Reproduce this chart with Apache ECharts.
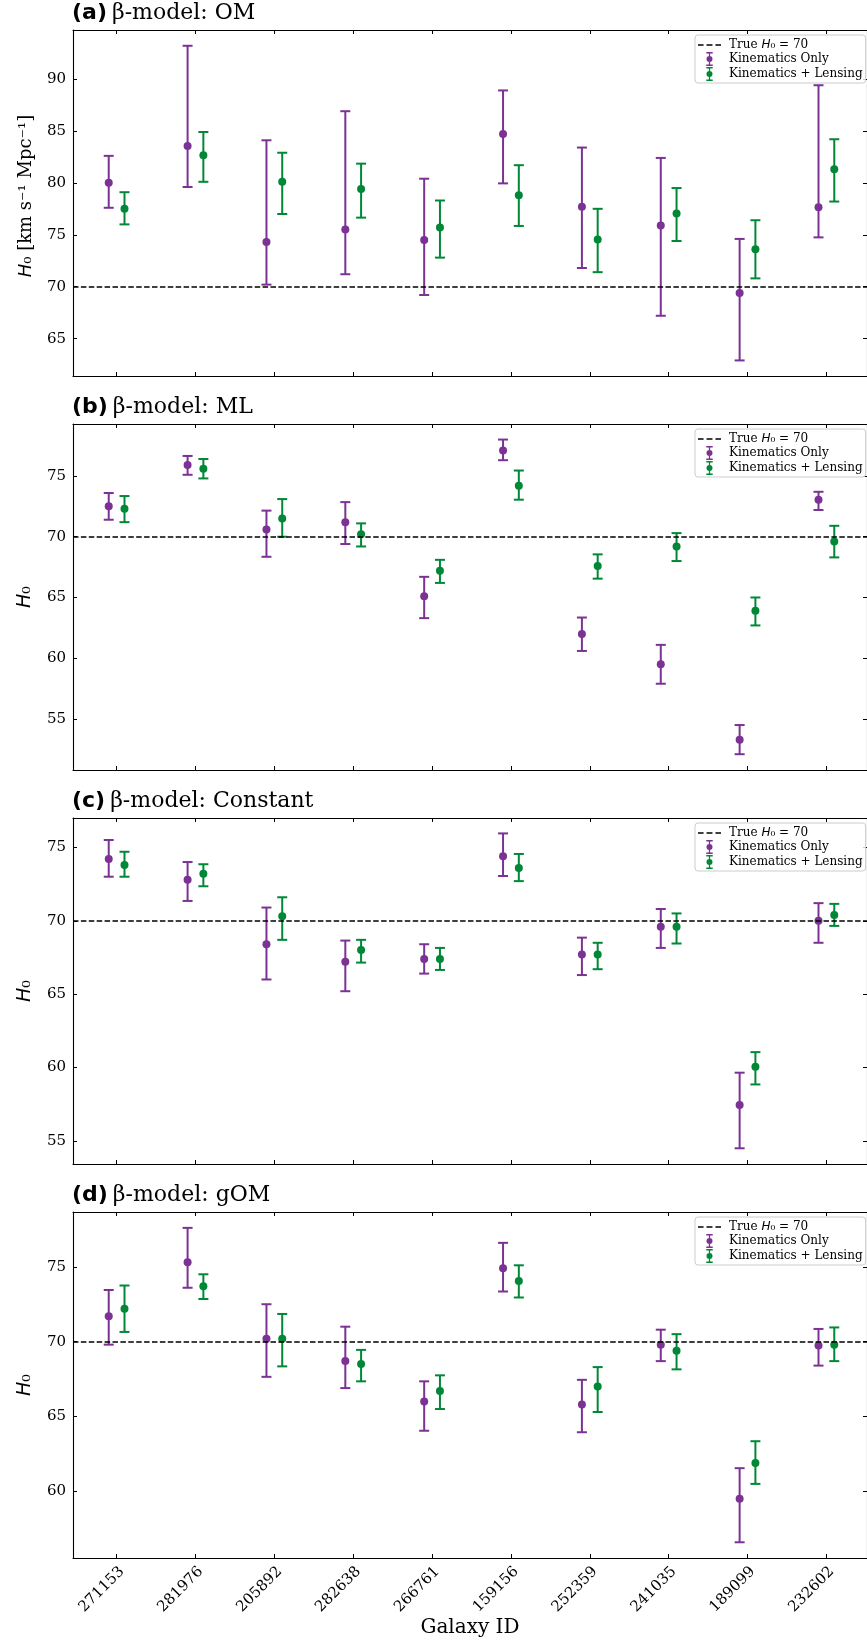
<!DOCTYPE html>
<html>
<head>
<meta charset="utf-8">
<title>H0 by galaxy</title>
<script src="https://cdn.jsdelivr.net/npm/echarts@6/dist/echarts.min.js"></script>
<style>
  html, body { margin: 0; padding: 0; background: #fff; }
  #main { width: 867px; height: 1643px; }
</style>
</head>
<body>
<div id="main"></div>
<script>
// x axis categories
const galaxyIds = ['271153', '281976', '205892', '282638', '266761', '159156', '252359', '241035', '189099', '232602'];
const TRUE_H0 = 70;

// (a) OM
const omKinVal  = [80.0, 83.55, 74.3, 75.5, 74.5, 84.7, 77.7, 75.9, 69.4, 77.65];
const omKinLo   = [77.6, 79.6, 70.2, 71.2, 69.2, 79.95, 71.8, 67.2, 62.9, 74.75];
const omKinHi   = [82.6, 93.2, 84.1, 86.9, 80.4, 88.9, 83.4, 82.4, 74.6, 89.4];
const omLensVal = [77.5, 82.65, 80.1, 79.4, 75.7, 78.8, 74.55, 77.05, 73.6, 81.3];
const omLensLo  = [76.0, 80.1, 77.0, 76.65, 72.8, 75.85, 71.4, 74.4, 70.8, 78.2];
const omLensHi  = [79.1, 84.9, 82.9, 81.85, 78.3, 81.7, 77.5, 79.5, 76.4, 84.2];

// (b) ML
const mlKinVal  = [72.5, 75.9, 70.6, 71.2, 65.1, 77.1, 62.0, 59.5, 53.3, 73.05];
const mlKinLo   = [71.4, 75.1, 68.35, 69.4, 63.3, 76.3, 60.6, 57.9, 52.1, 72.2];
const mlKinHi   = [73.6, 76.65, 72.15, 72.85, 66.7, 78.0, 63.35, 61.1, 54.5, 73.7];
const mlLensVal = [72.3, 75.6, 71.5, 70.2, 67.2, 74.2, 67.6, 69.2, 63.9, 69.6];
const mlLensLo  = [71.2, 74.8, 70.0, 69.2, 66.2, 73.05, 66.55, 68.0, 62.7, 68.3];
const mlLensHi  = [73.35, 76.4, 73.1, 71.1, 68.1, 75.45, 68.55, 70.3, 65.0, 70.9];

// (c) Constant
const cKinVal  = [74.2, 72.8, 68.4, 67.2, 67.4, 74.4, 67.7, 69.6, 57.45, 70.0];
const cKinLo   = [73.0, 71.35, 66.0, 65.2, 66.4, 73.05, 66.3, 68.15, 54.5, 68.5];
const cKinHi   = [75.5, 74.0, 70.9, 68.65, 68.4, 75.95, 68.85, 70.8, 59.65, 71.2];
const cLensVal = [73.8, 73.2, 70.3, 68.0, 67.4, 73.6, 67.7, 69.6, 60.05, 70.4];
const cLensLo  = [73.0, 72.35, 68.7, 67.15, 66.65, 72.7, 66.7, 68.45, 58.85, 69.65];
const cLensHi  = [74.7, 73.85, 71.6, 68.7, 68.15, 74.55, 68.5, 70.5, 61.05, 71.15];

// (d) gOM
const gKinVal  = [71.7, 75.3, 70.2, 68.7, 66.0, 74.9, 65.8, 69.8, 59.5, 69.75];
const gKinLo   = [69.8, 73.6, 67.65, 66.9, 64.05, 73.35, 63.95, 68.7, 56.6, 68.4];
const gKinHi   = [73.45, 77.6, 72.5, 71.0, 67.35, 76.6, 67.45, 70.8, 61.55, 70.85];
const gLensVal = [72.2, 73.7, 70.2, 68.5, 66.7, 74.05, 67.0, 69.4, 61.9, 69.8];
const gLensLo  = [70.65, 72.85, 68.35, 67.35, 65.5, 72.95, 65.3, 68.15, 60.5, 68.7];
const gLensHi  = [73.75, 74.5, 71.85, 69.45, 67.75, 75.1, 68.3, 70.5, 63.35, 70.95];

// y tick labels
const yTicksA = [65, 70, 75, 80, 85, 90];
const yTicksB = [55, 60, 65, 70, 75];
const yTicksC = [55, 60, 65, 70, 75];
const yTicksD = [60, 65, 70, 75];

const PURPLE = '#7b3294';
const GREEN = '#008837';
const SERIF = 'DejaVu Serif';
const TRUE_NAME = 'True H0 = 70';
const KIN_NAME = 'Kinematics Only';
const LENS_NAME = 'Kinematics + Lensing';

// legend glyphs: errorbar (caps, stem, dot) and dashed line
const ERR_ICON = 'path://M0,0H6V1.3H0Z M2.4,0H3.6V13H2.4Z M0,11.7H6V13H0Z M0.2,6.5A2.8,2.8 0 1,1 5.8,6.5A2.8,2.8 0 1,1 0.2,6.5Z';
const DASH_ICON = 'path://M0,0H5.6V1.5H0Z M8.6,0H14.6V1.5H8.6Z M17.6,0H23.2V1.5H17.6Z';

const panels = [
  { tag: '(a)', model: 'OM', top: 30, min: 61.4, max: 94.72, ticks: yTicksA,
    yName: '{it|H}₀ [km s⁻¹ Mpc⁻¹]', ySize: 18, yPad: [0, 0, 0, 14],
    kin: [omKinVal, omKinLo, omKinHi], lens: [omLensVal, omLensLo, omLensHi] },
  { tag: '(b)', model: 'ML', top: 424, min: 50.8, max: 79.28, ticks: yTicksB,
    yName: '{it|H}₀', ySize: 19, yPad: 0,
    kin: [mlKinVal, mlKinLo, mlKinHi], lens: [mlLensVal, mlLensLo, mlLensHi] },
  { tag: '(c)', model: 'Constant', top: 818, min: 53.43, max: 77.0, ticks: yTicksC,
    yName: '{it|H}₀', ySize: 19, yPad: 0,
    kin: [cKinVal, cKinLo, cKinHi], lens: [cLensVal, cLensLo, cLensHi] },
  { tag: '(d)', model: 'gOM', top: 1212, min: 55.55, max: 78.66, ticks: yTicksD,
    yName: '{it|H}₀', ySize: 19, yPad: 0,
    kin: [gKinVal, gKinLo, gKinHi], lens: [gLensVal, gLensLo, gLensHi] }
];

const GRID_LEFT = 73, GRID_W = 796, GRID_H = 346;
const X_MIN = -0.553, X_MAX = 9.515;
const xTicks = galaxyIds.map((_, i) => i);

function renderErrorBar(params, api) {
  const p = api.coord([api.value(0), api.value(1)]);
  const lo = api.coord([api.value(0), api.value(2)]);
  const hi = api.coord([api.value(0), api.value(3)]);
  const color = api.visual('color');
  const st = { stroke: color, lineWidth: 2, fill: null };
  return {
    type: 'group',
    children: [
      { type: 'line', shape: { x1: lo[0], y1: lo[1], x2: hi[0], y2: hi[1] }, style: st },
      { type: 'line', shape: { x1: hi[0] - 5, y1: hi[1], x2: hi[0] + 5, y2: hi[1] }, style: st },
      { type: 'line', shape: { x1: lo[0] - 5, y1: lo[1], x2: lo[0] + 5, y2: lo[1] }, style: st },
      { type: 'circle', shape: { cx: p[0], cy: p[1], r: 4 }, style: { fill: color } }
    ]
  };
}

const tickStyle = { show: true, inside: true, length: 4, lineStyle: { color: '#000', width: 1 } };
const spine = { show: true, onZero: false, lineStyle: { color: '#000', width: 1.1 } };

const grids = [], xAxes = [], yAxes = [], series = [], titles = [], legends = [];

panels.forEach((pn, k) => {
  const last = k === panels.length - 1;
  grids.push({ left: GRID_LEFT, top: pn.top, width: GRID_W, height: GRID_H });

  titles.push({
    left: GRID_LEFT - 1, top: pn.top - 28, padding: 0,
    text: '{b|' + pn.tag + '} {n|β-model: ' + pn.model + '}',
    textStyle: {
      fontWeight: 'normal',
      rich: {
        b: { fontFamily: 'DejaVu Sans', fontWeight: 'bold', fontSize: 22, color: '#000' },
        n: { fontFamily: SERIF, fontWeight: 'normal', fontSize: 22, color: '#000' }
      }
    }
  });

  // bottom + top x axes
  xAxes.push({
    type: 'value', gridIndex: k, min: X_MIN, max: X_MAX, position: 'bottom',
    axisLine: spine, axisTick: Object.assign({ customValues: xTicks }, tickStyle), splitLine: { show: false },
    axisLabel: {
      show: last, customValues: xTicks, rotate: 45, margin: 6, verticalAlign: 'top', align: 'right',
      fontFamily: SERIF, fontSize: 15, color: '#000',
      formatter: v => galaxyIds[Math.round(v)] || ''
    },
    name: last ? 'Galaxy ID' : '', nameLocation: 'middle', nameGap: 59,
    nameTextStyle: { fontFamily: SERIF, fontSize: 20, color: '#000' }
  });
  xAxes.push({
    type: 'value', gridIndex: k, min: X_MIN, max: X_MAX, position: 'top',
    axisLine: spine, axisTick: Object.assign({ customValues: xTicks }, tickStyle),
    axisLabel: { show: false }, splitLine: { show: false }
  });

  // left + right y axes
  yAxes.push({
    type: 'value', gridIndex: k, min: pn.min, max: pn.max, position: 'left',
    axisLine: spine, axisTick: Object.assign({ customValues: pn.ticks }, tickStyle), splitLine: { show: false },
    axisLabel: { customValues: pn.ticks, margin: 7, fontFamily: SERIF, fontSize: 15, color: '#000' },
    name: pn.yName, nameLocation: 'middle', nameRotate: 90, nameGap: 38,
    nameTextStyle: {
      fontFamily: SERIF, fontSize: pn.ySize, color: '#000', padding: pn.yPad,
      rich: { it: { fontFamily: 'DejaVu Sans', fontStyle: 'italic', fontSize: pn.ySize, color: '#000' } }
    }
  });
  yAxes.push({
    type: 'value', gridIndex: k, min: pn.min, max: pn.max, position: 'right',
    axisLine: spine, axisTick: Object.assign({ customValues: pn.ticks }, tickStyle),
    axisLabel: { show: false }, splitLine: { show: false }
  });

  const dash = { color: '#000', type: [5.5, 2.4], width: 1.5 };
  series.push({
    name: TRUE_NAME, type: 'line', xAxisIndex: 2 * k, yAxisIndex: 2 * k, data: [],
    symbol: 'none', lineStyle: dash, itemStyle: { color: '#000' },
    markLine: { silent: true, symbol: ['none', 'none'], label: { show: false }, lineStyle: dash,
      data: [{ yAxis: TRUE_H0 }] }
  });
  [[KIN_NAME, pn.kin, -0.1, PURPLE], [LENS_NAME, pn.lens, 0.1, GREEN]].forEach(([name, arr, dx, color]) => {
    series.push({
      name: name, type: 'custom', xAxisIndex: 2 * k, yAxisIndex: 2 * k,
      itemStyle: { color: color },
      encode: { x: 0, y: 1 },
      renderItem: renderErrorBar,
      data: galaxyIds.map((_, i) => [i + dx, arr[0][i], arr[1][i], arr[2][i]])
    });
  });

  legends.push({
    orient: 'vertical', left: 695, top: pn.top + 5,
    itemWidth: 23, itemHeight: 14, itemGap: 1,
    padding: [4, 3, 2, 3],
    borderColor: '#cccccc', borderWidth: 1, borderRadius: 3,
    backgroundColor: 'rgba(255,255,255,0.8)',
    selectedMode: false,
    data: [{ name: TRUE_NAME, icon: DASH_ICON }, { name: KIN_NAME, icon: ERR_ICON }, { name: LENS_NAME, icon: ERR_ICON }],
    formatter: n => n === TRUE_NAME ? 'True {it|H}₀ = 70' : n,
    textStyle: {
      fontFamily: SERIF, fontSize: 12, color: '#000', padding: [0, 0, 0, 3],
      rich: { it: { fontFamily: 'DejaVu Sans', fontStyle: 'italic', fontSize: 12, color: '#000' } }
    }
  });
});

const chart = echarts.init(document.getElementById('main'), null, { renderer: 'canvas' });
chart.setOption({
  backgroundColor: '#fff',
  animation: false,
  title: titles,
  grid: grids,
  xAxis: xAxes,
  yAxis: yAxes,
  legend: legends,
  series: series
});
</script>
</body>
</html>
